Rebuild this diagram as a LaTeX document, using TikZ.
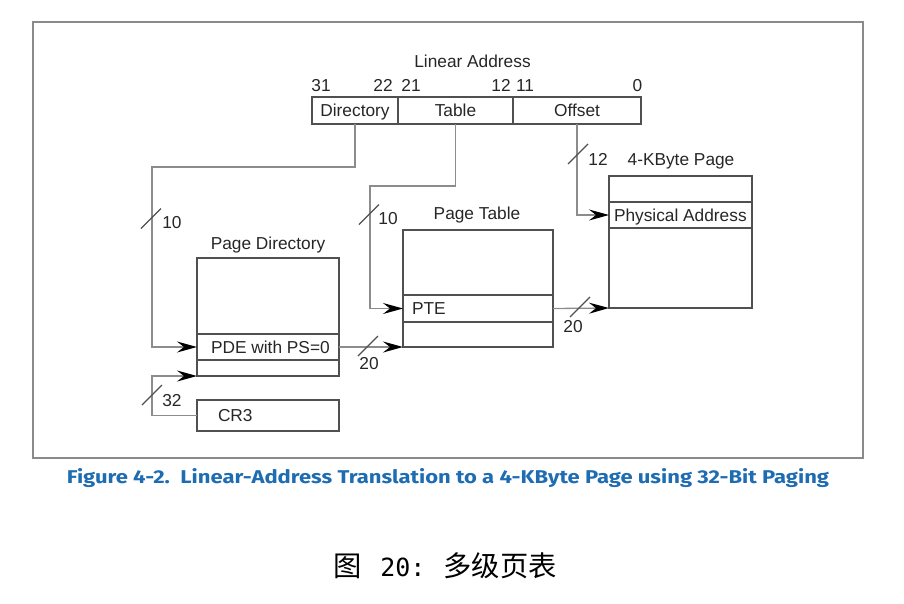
\documentclass[tikz,border=0pt]{standalone}
\usepackage{fontspec}
\setmainfont{Liberation Sans}
\newfontfamily\cjk{Noto Sans CJK SC}
\newfontfamily\capfont{Fira Sans}
\newfontfamily\monof{DejaVu Sans Mono}
\usetikzlibrary{arrows.meta,calc}
\definecolor{boxc}{HTML}{505050}
\definecolor{linec}{HTML}{8C8C8C}
\definecolor{framec}{HTML}{8A8A8A}
\definecolor{capblue}{RGB}{30,108,178}
\begin{document}
\begin{tikzpicture}[x=1pt,y=-1pt,
  every node/.style={inner sep=0pt, outer sep=0pt},
  lbl/.style={font=\fontsize{17.3}{20}\selectfont, text height=12.4pt, text depth=0pt, text=black!85},
  box/.style={draw=boxc, line width=1.3pt, rectangle, anchor=north west, lbl},
  conn/.style={draw=linec, line width=1.3pt},
  arr/.style={-{Stealth[length=20pt,width=11pt,inset=7pt,color=black]}},
  busline/.style={draw=boxc, line width=1.3pt},
  bus/.pic={\draw[busline] (-10,10) -- (10,-10);}
]
\useasboundingbox (0,0) rectangle (904,603);
% outer frame
\draw[framec, line width=2pt] (33,22) rectangle (863,458);

% linear address
\node[lbl] (la) at (472.5,61) {Linear Address};
\node[box, minimum width=86pt, minimum height=27pt] (dir) at (312,97) {Directory};
\node[box, minimum width=115pt, minimum height=27pt] (tab) at (398,97) {Table};
\node[box, minimum width=128pt, minimum height=27pt] (off) at (513,97) {Offset};
\node[lbl] (b31) at (321,85) {31};
\node[lbl] (b22) at (383,85) {22};
\node[lbl] (b21) at (411,85) {21};
\node[lbl] (b12) at (501,85) {12};
\node[lbl] (b11) at (525,85) {11};
\node[lbl] (b0) at (637.5,85) {0};

% page directory
\node[lbl] (pdl) at (268,243) {Page Directory};
\node[box, minimum width=142pt, minimum height=118pt] (pd) at (197,258) {};
\node[box, minimum width=142pt, minimum height=26pt] (pde) at (197,334) {};
\node[lbl, anchor=west] (pdet) at (211,347) {PDE with PS=0};

% CR3
\node[box, minimum width=142pt, minimum height=31pt] (cr3) at (197,400) {};
\node[lbl, anchor=west] (cr3t) at (218,415.5) {CR3};

% page table
\node[lbl] (ptl) at (477,213) {Page Table};
\node[box, minimum width=150pt, minimum height=117pt] (pt) at (403,230) {};
\node[box, minimum width=150pt, minimum height=27pt] (pte) at (403,295) {};
\node[lbl, anchor=west] (ptet) at (412,308.5) {PTE};

% 4-KByte page
\node[lbl] (pgl) at (681,159) {4-KByte Page};
\node[box, minimum width=143pt, minimum height=132pt] (pg) at (609,176) {};
\node[box, minimum width=143pt, minimum height=26pt] (pa) at (609,202) {};
\node[lbl, anchor=west] (pat) at (614,215) {Physical Address};

% connectors
\coordinate (d2) at (152,167);
\draw[conn,arr] (dir.south) |- (d2) |- (pde.west);
\pic at (151,218.5) {bus};
\node[lbl] (n10a) at (172,222) {10};

\coordinate (t2) at (370,186);
\draw[conn,arr] (tab.south) |- (t2) |- (pte.west);
\pic at (369,214.5) {bus};
\node[lbl] (n10b) at (388,218) {10};

\draw[conn,arr] (off.south) |- (pa.west);
\pic at (578,154) {bus};
\node[lbl] (n12) at (598,159) {12};

\coordinate (c2) at (152,376);
\draw[conn,arr] (cr3.west) -| (c2) -- (pd.south west);
\pic at (152,395) {bus};
\node[lbl] (n32) at (172,400) {32};

\draw[conn,arr] (pde.east) -- (pt.south west);
\pic at (368,346) {bus};
\node[lbl] (n20a) at (369,363) {20};

\draw[conn,arr] (pte.east) -- (pg.south west);
\pic at (580,307) {bus};
\node[lbl] (n20b) at (573,326) {20};

% captions
\node[text=capblue] (cap) at (448,478) {\resizebox{762pt}{15pt}{\capfont\bfseries Figure 4-2.\ \ Linear-Address Translation to a 4-KByte Page using 32-Bit Paging}};
\node[anchor=west] (zh) at (333,566) {\fontsize{28.3}{30}\selectfont\cjk 图\hspace{19pt}{\monof\fontsize{25}{30}\selectfont 20:}\hspace{18pt}多级页表};
\end{tikzpicture}
\end{document}
